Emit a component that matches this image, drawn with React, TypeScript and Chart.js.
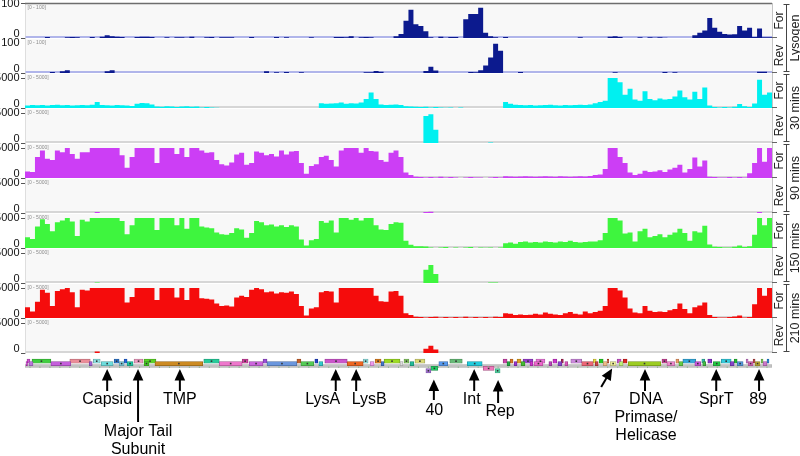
import React, { useEffect, useRef } from 'react';
import { Chart, registerables } from 'chart.js';

Chart.register(...registerables);

const N_BINS = 150;
const STRANDS = ['For', 'Rev', 'For', 'Rev', 'For', 'Rev', 'For', 'Rev', 'For', 'Rev'];
const CONDITIONS = ['Lysogen', '30 mins', '90 mins', '150 mins', '210 mins'];
const TRACK_RANGE = [100, 100, 5000, 5000, 5000, 5000, 5000, 5000, 5000, 5000];

const LYSOGEN_FOR = [
  0, 0, 0, 0, 3, 0, 0, 0, 2, 3,
  2, 0, 0, 3, 0, 4, 8, 5, 4, 3,
  0, 0, 3, 4, 4, 3, 0, 0, 2, 0,
  2, 2, 1, 4, 0, 0, 2, 3, 0, 2,
  2, 2, 0, 0, 0, 3, 0, 0, 0, 0,
  3, 0, 2, 0, 0, 0, 0, 2, 0, 0,
  0, 0, 3, 3, 2, 5, 0, 2, 3, 2,
  0, 0, 0, 0, 5, 12, 50, 82, 40, 35,
  20, 2, 0, 4, 1, 3, 3, 0, 55, 70,
  70, 88, 15, 5, 2, 0, 3, 0, 0, 0,
  0, 0, 0, 0, 0, 0, 0, 0, 0, 0,
  0, 2, 0, 0, 0, 0, 0, 4, 5, 3,
  0, 0, 0, 2, 0, 2, 1, 2, 1, 0,
  0, 0, 0, 0, 8, 15, 22, 58, 30, 18,
  12, 10, 11, 35, 22, 30, 3, 28, 2, 2,
];
const LYSOGEN_REV = [
  0, 0, 0, 0, 0, 3, 0, 5, 8, 0,
  0, 0, 0, 0, 0, 0, 5, 8, 0, 0,
  0, 0, 0, 0, 0, 0, 0, 0, 0, 0,
  0, 0, 0, 0, 0, 0, 0, 0, 0, 0,
  0, 0, 0, 0, 0, 0, 0, 0, 5, 0,
  2, 0, 3, 0, 0, 2, 0, 0, 0, 0,
  0, 0, 0, 0, 0, 0, 0, 0, 2, 2,
  6, 4, 0, 0, 0, 0, 0, 0, 0, 0,
  6, 18, 7, 0, 0, 0, 0, 0, 0, 3,
  2, 8, 22, 45, 85, 65, 0, 0, 0, 3,
  0, 0, 0, 0, 0, 0, 0, 0, 0, 0,
  0, 0, 0, 0, 0, 0, 0, 0, 2, 0,
  0, 0, 0, 0, 0, 0, 0, 0, 3, 0,
  2, 0, 0, 0, 0, 0, 0, 0, 0, 0,
  0, 0, 0, 0, 0, 0, 0, 4, 4, 0,
];
const MIN30_FOR = [
  400, 500, 450, 500, 400, 500, 550, 450, 500, 400,
  450, 500, 450, 550, 1000, 500, 450, 400, 500, 450,
  400, 350, 700, 850, 800, 600, 250, 200, 300, 250,
  150, 250, 300, 200, 250, 100, 150, 100, 50, 0,
  0, 0, 0, 0, 0, 0, 0, 0, 0, 0,
  0, 0, 0, 0, 0, 0, 0, 0, 0, 800,
  700, 750, 800, 900, 700, 800, 750, 900, 1500, 2600,
  1500, 600, 500, 550, 600, 500, 300, 250, 200, 150,
  200, 100, 150, 100, 50, 100, 0, 100, 0, 0,
  0, 0, 0, 0, 0, 0, 1000, 700, 550, 500,
  450, 500, 400, 450, 500, 550, 450, 400, 500, 450,
  500, 550, 500, 600, 800, 1000, 1200, 5000, 5000, 4300,
  2200, 3200, 1400, 1200, 2800, 1500, 1300, 1600, 1400, 1500,
  1900, 2900, 1800, 1400, 2700, 1500, 3400, 400, 150, 100,
  150, 100, 200, 650, 300, 150, 750, 4700, 2200, 2600,
];
const MIN30_REV = [
  0, 0, 0, 0, 0, 0, 0, 0, 0, 0,
  0, 0, 0, 0, 0, 0, 0, 0, 0, 0,
  0, 0, 0, 0, 0, 0, 0, 0, 0, 0,
  0, 0, 0, 0, 0, 0, 0, 0, 0, 0,
  0, 0, 0, 0, 0, 0, 0, 0, 0, 0,
  0, 0, 0, 0, 0, 0, 0, 0, 0, 0,
  0, 0, 0, 0, 0, 0, 0, 0, 0, 0,
  0, 0, 0, 0, 0, 0, 0, 0, 0, 0,
  4500, 4800, 2200, 0, 0, 0, 0, 0, 0, 0,
  0, 0, 0, 100, 0, 0, 0, 0, 0, 0,
  0, 0, 0, 0, 0, 0, 0, 0, 0, 0,
  0, 0, 0, 0, 0, 0, 0, 0, 0, 0,
  0, 0, 0, 0, 0, 0, 0, 0, 0, 0,
  0, 0, 0, 0, 0, 0, 0, 0, 0, 0,
  0, 0, 0, 0, 0, 0, 0, 0, 0, 0,
];
const MIN90_FOR = [
  1100, 1000, 3500, 4600, 3200, 3000, 4600, 4300, 5000, 4000,
  3200, 4300, 4300, 5000, 5000, 5000, 5000, 5000, 5000, 3800,
  1700, 3500, 5000, 5000, 5000, 5000, 2500, 5000, 5000, 5000,
  4000, 5000, 3500, 5000, 5000, 4600, 4200, 4300, 3000, 2300,
  2100, 2600, 3900, 4200, 2200, 2500, 4400, 4200, 3800, 4000,
  3600, 4600, 3900, 4400, 4500, 2500, 700, 2000, 2300, 3500,
  3700, 3000, 1900, 4600, 5000, 5000, 5000, 4200, 5000, 4500,
  4400, 3000, 2700, 4200, 4600, 3500, 900, 500, 200, 150,
  100, 150, 100, 200, 100, 150, 100, 0, 100, 150,
  100, 100, 0, 100, 150, 100, 300, 250, 200, 250,
  300, 250, 200, 250, 300, 250, 200, 300, 250, 200,
  250, 300, 250, 350, 500, 600, 1500, 5000, 5000, 3500,
  2500, 900, 500, 700, 1200, 1000, 1100, 1300, 1000, 1400,
  1700, 2200, 900, 1500, 3400, 1900, 2900, 200, 150, 100,
  100, 150, 100, 150, 100, 800, 2500, 5000, 2700, 5000,
];
const MIN90_REV = [
  0, 0, 0, 0, 0, 0, 0, 0, 0, 0,
  0, 0, 0, 0, 150, 0, 0, 0, 0, 0,
  0, 0, 0, 0, 0, 0, 0, 0, 0, 0,
  0, 0, 0, 0, 0, 0, 0, 0, 0, 0,
  0, 0, 0, 0, 0, 0, 0, 0, 0, 0,
  0, 0, 0, 0, 0, 0, 0, 0, 0, 0,
  0, 0, 0, 0, 0, 0, 0, 0, 0, 0,
  0, 0, 0, 0, 0, 0, 0, 0, 0, 0,
  150, 200, 0, 0, 0, 0, 0, 0, 0, 0,
  0, 0, 0, 0, 0, 0, 0, 0, 0, 0,
  0, 0, 0, 0, 0, 0, 0, 0, 0, 0,
  0, 0, 0, 0, 0, 0, 0, 0, 0, 0,
  0, 0, 0, 0, 0, 0, 0, 0, 0, 0,
  0, 0, 0, 0, 0, 0, 0, 0, 0, 0,
  0, 0, 0, 0, 0, 0, 0, 150, 0, 0,
];
const MIN150_FOR = [
  1800, 1500, 3600, 4800, 4000, 2800, 4300, 4600, 5000, 4400,
  2000, 4700, 4400, 5000, 5000, 5000, 5000, 5000, 5000, 4500,
  2300, 3800, 5000, 5000, 5000, 5000, 3000, 5000, 5000, 5000,
  3800, 5000, 3200, 5000, 5000, 3600, 3400, 3300, 2600, 2300,
  2200, 2500, 3300, 3100, 1700, 2500, 4500, 4300, 3800, 3900,
  3600, 3800, 3500, 3800, 3600, 1400, 400, 1300, 1500, 4500,
  4200, 4600, 2600, 5000, 5000, 4700, 5000, 4600, 5000, 5000,
  3800, 3100, 3000, 4000, 4300, 4200, 1200, 550, 300, 300,
  250, 100, 0, 100, 150, 0, 100, 0, 100, 150,
  0, 100, 50, 100, 0, 100, 800, 900, 700, 1000,
  1100, 900, 1000, 900, 1100, 1000, 900, 1100, 1000, 1200,
  1000, 900, 1000, 1100, 1100, 1300, 2500, 5000, 5000, 4600,
  2400, 2600, 1100, 2800, 3200, 1800, 2000, 2300, 1800, 2200,
  2600, 3200, 2500, 1200, 2800, 2600, 3700, 600, 200, 150,
  100, 100, 200, 400, 150, 300, 2200, 5000, 3800, 5000,
];
const MIN150_REV = [
  0, 0, 0, 0, 0, 0, 0, 0, 0, 0,
  0, 0, 0, 0, 100, 0, 0, 0, 0, 0,
  0, 0, 0, 0, 0, 0, 0, 0, 0, 0,
  0, 0, 0, 0, 0, 0, 0, 0, 0, 0,
  0, 0, 0, 0, 0, 0, 0, 0, 0, 0,
  0, 0, 0, 0, 0, 0, 0, 0, 0, 0,
  0, 0, 0, 0, 0, 0, 0, 0, 0, 0,
  0, 0, 0, 0, 0, 0, 0, 0, 0, 0,
  2200, 3000, 1500, 0, 0, 0, 0, 0, 0, 0,
  0, 0, 0, 100, 100, 0, 0, 0, 0, 0,
  0, 0, 0, 0, 0, 0, 0, 0, 0, 0,
  0, 0, 0, 0, 0, 0, 0, 0, 0, 0,
  0, 0, 0, 0, 0, 0, 0, 0, 0, 0,
  0, 0, 0, 0, 0, 0, 0, 0, 0, 0,
  0, 0, 0, 0, 0, 0, 0, 0, 0, 0,
];
const MIN210_FOR = [
  1800, 1100, 2700, 4700, 4200, 2000, 4500, 4800, 5000, 4300,
  1800, 4700, 4600, 5000, 5000, 5000, 5000, 5000, 5000, 5000,
  2600, 3500, 5000, 5000, 5000, 5000, 3000, 5000, 5000, 5000,
  3400, 5000, 3000, 5000, 5000, 3300, 3200, 3100, 2400, 2000,
  2100, 1900, 3400, 3700, 3500, 4700, 5000, 4800, 4300, 4400,
  4100, 4300, 4200, 4400, 4000, 2000, 400, 1600, 1800, 4300,
  4500, 4400, 2600, 5000, 5000, 5000, 5000, 5000, 5000, 5000,
  3700, 2800, 2700, 4400, 4500, 3700, 800, 500, 200, 150,
  100, 150, 200, 100, 150, 100, 150, 100, 200, 100,
  150, 100, 150, 100, 200, 150, 800, 700, 500, 600,
  500, 550, 700, 600, 900, 700, 600, 500, 800, 1000,
  700, 600, 1100, 800, 1000, 1200, 2000, 5000, 5000, 4600,
  3400, 1600, 900, 800, 2000, 1200, 1000, 1100, 1000, 1300,
  1500, 2400, 1500, 800, 1800, 2100, 2600, 500, 150, 100,
  100, 150, 250, 400, 100, 150, 2300, 5000, 3700, 5000,
];
const MIN210_REV = [
  0, 0, 0, 0, 0, 0, 0, 0, 0, 0,
  0, 0, 0, 0, 250, 0, 0, 0, 0, 0,
  0, 0, 0, 0, 0, 0, 0, 0, 0, 0,
  0, 0, 0, 0, 0, 0, 0, 0, 0, 0,
  0, 0, 0, 0, 0, 0, 0, 0, 0, 0,
  0, 0, 0, 0, 0, 0, 0, 0, 0, 0,
  0, 0, 0, 0, 0, 0, 0, 0, 0, 0,
  0, 0, 0, 0, 0, 0, 0, 0, 0, 0,
  700, 1200, 600, 0, 0, 0, 0, 0, 0, 0,
  0, 0, 0, 0, 0, 0, 0, 0, 0, 0,
  0, 0, 0, 0, 0, 0, 0, 0, 0, 0,
  0, 0, 0, 0, 0, 0, 0, 0, 0, 0,
  0, 0, 0, 0, 0, 0, 0, 0, 0, 0,
  0, 0, 0, 0, 0, 0, 0, 0, 0, 0,
  0, 0, 0, 0, 0, 0, 0, 0, 0, 0,
];

// genes: [start, end, lane]  (lane 0/1 above the ruler, 3/4 below it)
const GENES: [number, number, number][] = [
  [0.4, 1.0, 0], [1.4, 5.2, 0], [9.0, 13.1, 0], [13.7, 15.1, 0], [17.9, 18.9, 0], [19.9, 20.5, 0],
  [21.9, 23.7, 0], [23.9, 26.3, 0], [35.9, 39.0, 0], [43.6, 44.8, 0], [47.8, 48.6, 0], [54.6, 55.4, 0],
  [58.2, 58.8, 0], [60.2, 64.7, 0], [67.9, 68.9, 0], [70.3, 71.5, 0], [72.1, 75.3, 0], [76.1, 77.1, 0],
  [78.3, 80.3, 0], [85.3, 87.8, 0], [96.0, 96.8, 0], [97.4, 98.0, 0], [98.8, 99.6, 0], [100.0, 102.0, 0],
  [102.6, 104.4, 0], [106.0, 106.8, 0], [107.7, 108.1, 0], [109.6, 111.8, 0], [114.1, 114.7, 0], [115.3, 116.1, 0],
  [116.9, 117.2, 0], [118.9, 119.7, 0], [120.1, 120.9, 0], [127.9, 128.9, 0], [130.7, 131.3, 0], [132.1, 134.7, 0],
  [135.9, 136.5, 0], [137.1, 137.9, 0], [139.8, 141.8, 0], [142.4, 143.0, 0], [144.8, 145.2, 0], [146.2, 146.6, 0],
  [147.8, 148.2, 0], [149.0, 149.4, 0],
  [0.2, 0.5, 1], [0.8, 1.6, 1], [5.2, 9.2, 1], [12.9, 13.5, 1], [15.3, 17.7, 1], [18.9, 19.9, 1],
  [20.5, 21.7, 1], [23.9, 24.9, 1], [26.1, 35.7, 1], [39.0, 43.6, 1], [45.0, 47.8, 1], [48.6, 54.6, 1],
  [55.4, 58.0, 1], [59.0, 59.8, 1], [64.7, 67.9, 1], [69.3, 70.1, 1], [71.5, 72.1, 1], [75.3, 75.9, 1],
  [77.3, 78.1, 1], [83.1, 84.9, 1], [88.8, 91.8, 1], [96.8, 97.4, 1], [98.2, 98.8, 1], [99.6, 100.4, 1],
  [101.4, 102.0, 1], [102.2, 104.0, 1], [105.2, 105.8, 1], [107.0, 107.8, 1], [108.4, 109.0, 1], [111.8, 114.1, 1],
  [114.5, 115.1, 1], [116.1, 116.9, 1], [117.5, 118.7, 1], [119.3, 120.1, 1], [121.1, 127.7, 1], [128.9, 130.5, 1],
  [131.3, 132.1, 1], [134.5, 135.7, 1], [136.1, 136.7, 1], [138.2, 139.6, 1], [141.6, 142.4, 1], [143.0, 144.2, 1],
  [145.2, 146.2, 1], [146.6, 147.6, 1], [148.2, 149.0, 1],
  [81.5, 82.9, 3], [92.0, 94.2, 3], [80.5, 81.5, 4], [94.4, 95.4, 4],
];
const GENE_COLORS = [
  '#d24fd2', '#3fcf3f', '#ec8c98', '#8fe3e3', '#2f78cf', '#2266dd', '#ee9cc0', '#5ad426', '#25cc9a', '#d0409f',
  '#9b4fd8', '#c8602a', '#2040c8', '#cc55cc', '#90e4e4', '#e08020', '#9cdc22', '#88cc66', '#dada74', '#66bb77',
  '#cc44aa', '#dd7722', '#e0a020', '#9a3fd0', '#ee77dd', '#cc33cc', '#aa2255', '#cc88dd', '#eedd44', '#22cc22',
  '#cc4422', '#cc55cc', '#dd2222', '#cc4499', '#ee9966', '#33aadd', '#33bbaa', '#8833cc', '#33ccdd', '#22bb33',
  '#cc77cc', '#bb4444', '#77cc55', '#2288dd',
  '#cc33cc', '#bb77dd', '#c55fdc', '#a35fd5', '#6fdddd', '#7fcfe0', '#22c9a5', '#44cc22', '#cc8a22', '#ee77cc',
  '#cc66dd', '#6a96dd', '#55cc55', '#33cccc', '#ee6622', '#ee99ee', '#4477cc', '#dddddd', '#22bb99', '#5599ee',
  '#22ccdd', '#22aa44', '#9933cc', '#44bb33', '#cc33cc', '#ee66cc', '#bb44bb', '#8844cc', '#dd55bb', '#ee6677',
  '#cc4444', '#eebb88', '#eeee99', '#bbee77', '#9ccc22', '#ee88cc', '#66cc44', '#cc55dd', '#44bb44', '#22cc44',
  '#8844cc', '#5599dd', '#dd66bb', '#bbaa33', '#cc77cc',
  '#22cc66', '#ee77bb', '#aa77dd', '#55ddaa',
];
const RULER: [number, number, number] = [0, 150, 2];

const ANNOTATIONS = [
  { text: ['Capsid'], arrow: 16.5, label: 16.5 },
  { text: ['Major Tail', 'Subunit'], arrow: 22.7, label: 22.7 },
  { text: ['TMP'], arrow: 31.1, label: 31.1 },
  { text: ['LysA'], arrow: 62.4, label: 59.8 },
  { text: ['LysB'], arrow: 66.5, label: 69.1 },
  { text: ['40'], arrow: 82.1, label: 82.2 },
  { text: ['Int'], arrow: 90.2, label: 89.7 },
  { text: ['Rep'], arrow: 95.0, label: 95.4 },
  { text: ['67'], arrow: 117.9, label: 113.8, tail: 115.7 },
  { text: ['DNA', 'Primase/', 'Helicase'], arrow: 124.5, label: 124.7 },
  { text: ['SprT'], arrow: 138.8, label: 138.8 },
  { text: ['89'], arrow: 147.4, label: 147.2 },
];
// style: [arrow tip y, arrow tail y, first text line y] in px
const ANNOT_Y = [
  [369, 391, 400], [369, 422, 432], [369, 391, 400], [369, 391, 400], [369, 391, 400], [379.5, 400, 410.7],
  [369, 391, 400], [380, 403, 412], [368.5, 387, 400], [369, 391, 400], [369, 391, 400], [369, 391, 400],
];

const TRACKS = [LYSOGEN_FOR, LYSOGEN_REV, MIN30_FOR, MIN30_REV, MIN90_FOR, MIN90_REV, MIN150_FOR, MIN150_REV, MIN210_FOR, MIN210_REV];
const TRACK_COLORS = ['#0c1a8e', '#0c1a8e', '#00f0f0', '#00f0f0', '#cc3ef5', '#cc3ef5', '#3ef53e', '#3ef53e', '#f50c0c', '#f50c0c'];
const AXIS_HEADROOM = [1.02, 1.02, 1.1667, 1.1667, 1.1667, 1.1667, 1.1667, 1.1667, 1.1667, 1.1667];
const FONT = '"Liberation Sans", Arial, Helvetica, sans-serif';

function darken(hex: string, f: number) {
  const n = parseInt(hex.slice(1), 16);
  const r = Math.round(((n >> 16) & 255) * f);
  const g = Math.round(((n >> 8) & 255) * f);
  const b = Math.round((n & 255) * f);
  return `rgb(${r},${g},${b})`;
}

function drawArrow(ctx: CanvasRenderingContext2D, tipX: number, tipY: number, tailX: number, tailY: number) {
  const dx = tipX - tailX, dy = tipY - tailY;
  const len = Math.hypot(dx, dy);
  const ux = dx / len, uy = dy / len;
  const headLen = 11.5, halfW = 5.3;
  const bx = tipX - ux * headLen, by = tipY - uy * headLen;
  const px = -uy, py = ux;
  ctx.beginPath();
  ctx.moveTo(tipX, tipY);
  ctx.lineTo(bx + px * halfW, by + py * halfW);
  ctx.lineTo(bx - px * halfW, by - py * halfW);
  ctx.closePath();
  ctx.fill();
  ctx.lineWidth = 2;
  ctx.beginPath();
  ctx.moveTo(bx + ux, by + uy);
  ctx.lineTo(tailX, tailY);
  ctx.stroke();
}

const decorPlugin = {
  id: 'decor',
  beforeDatasetsDraw(chart: any) {
    const { ctx, chartArea } = chart;
    const left = chartArea.left, w = chartArea.right - chartArea.left;
    ctx.save();
    TRACKS.forEach((_, t) => {
      const s = chart.scales['y' + t];
      ctx.fillStyle = '#f8f8f8';
      ctx.fillRect(left + 0.5, s.top + 1, w - 0.5, s.bottom - s.top - 1);
      const z = s.getPixelForValue(0);
      ctx.fillStyle = t < 2 ? '#b0b5ea' : '#d6d6d6';
      ctx.fillRect(left + 0.5, z - 2, w - 0.5, 2);
      ctx.fillStyle = '#8a8a8a';
      ctx.font = `5px ${FONT}`;
      ctx.textAlign = 'left';
      ctx.textBaseline = 'middle';
      ctx.fillText(`[0 - ${TRACK_RANGE[t]}]`, left + 2.5, s.top + 5);
    });
    ctx.restore();
  },
  afterDatasetsDraw(chart: any) {
    const { ctx } = chart;
    ctx.save();
    const meta = chart.getDatasetMeta(TRACKS.length);
    ctx.fillStyle = '#333';
    meta.data.forEach((bar: any) => {
      const { x, y, base } = bar.getProps(['x', 'y', 'base'], true);
      if (Math.abs(x - base) > 4) ctx.fillRect((x + base) / 2 - 0.8, y - 0.8, 1.6, 1.6);
    });
    const xs = chart.scales.x;
    const gy = chart.scales.genes.getPixelForValue(RULER[2]);
    ctx.fillStyle = '#8fb88f';
    for (let v = 1; v < N_BINS; v += 2) {
      const px = xs.getPixelForValue(v);
      ctx.fillRect(px - 0.5, gy + 0.5, 1, 1.5);
    }
    ctx.restore();
  },
  afterDraw(chart: any) {
    const { ctx, chartArea } = chart;
    const xs = chart.scales.x;
    const topS = chart.scales.y0;
    const botS = chart.scales['y' + (TRACKS.length - 1)];
    ctx.save();
    ctx.strokeStyle = '#6e6e6e';
    ctx.lineWidth = 1.5;
    ctx.beginPath();
    ctx.moveTo(chartArea.left, topS.top + 0.5);
    ctx.lineTo(chartArea.right, topS.top + 0.5);
    ctx.stroke();
    ctx.strokeStyle = '#c4c4c4';
    ctx.lineWidth = 1;
    ctx.beginPath();
    ctx.moveTo(chartArea.right + 0.5, topS.top);
    ctx.lineTo(chartArea.right + 0.5, botS.bottom);
    ctx.stroke();
    TRACKS.forEach((_, t) => {
      const s = chart.scales['y' + t];
      ctx.strokeStyle = '#666';
      ctx.beginPath();
      ctx.moveTo(chartArea.right, s.bottom - 0.5);
      ctx.lineTo(chartArea.right + 5, s.bottom - 0.5);
      ctx.stroke();
      ctx.save();
      ctx.translate(chartArea.right + 7.5, (s.top + s.bottom) / 2);
      ctx.rotate(-Math.PI / 2);
      ctx.fillStyle = '#222';
      ctx.font = `12px ${FONT}`;
      ctx.textAlign = 'center';
      ctx.textBaseline = 'middle';
      ctx.fillText(STRANDS[t], 0, 0);
      ctx.restore();
    });
    CONDITIONS.forEach((c, g) => {
      const a = chart.scales['y' + g * 2];
      const b = chart.scales['y' + (g * 2 + 1)];
      const bx = chart.chartArea.right + 14.5;
      const y1 = a.top + 1, y2 = b.bottom - 1;
      ctx.strokeStyle = '#444';
      ctx.lineWidth = 1;
      ctx.beginPath();
      ctx.moveTo(bx, y1); ctx.lineTo(bx, y2);
      ctx.moveTo(bx - 3, y1 + 0.5); ctx.lineTo(bx + 3, y1 + 0.5);
      ctx.moveTo(bx - 3, y2 - 0.5); ctx.lineTo(bx + 3, y2 - 0.5);
      ctx.stroke();
      ctx.save();
      ctx.translate(bx + 9, (y1 + y2) / 2);
      ctx.rotate(-Math.PI / 2);
      ctx.fillStyle = '#222';
      ctx.font = `12.5px ${FONT}`;
      ctx.textAlign = 'center';
      ctx.textBaseline = 'middle';
      ctx.fillText(c, 0, 0);
      ctx.restore();
    });
    ctx.fillStyle = '#000';
    ctx.strokeStyle = '#000';
    ANNOTATIONS.forEach((a, i) => {
      const [tipY, tailY, textY] = ANNOT_Y[i];
      const ax = xs.getPixelForValue(a.arrow);
      const tx = a.tail !== undefined ? xs.getPixelForValue(a.tail) : ax;
      drawArrow(ctx, ax, tipY, tx, tailY);
      ctx.font = `16px ${FONT}`;
      ctx.textAlign = 'center';
      ctx.textBaseline = 'middle';
      const lx = xs.getPixelForValue(a.label);
      a.text.forEach((line, k) => ctx.fillText(line, lx, textY + k * 17.6));
    });
    ctx.restore();
  },
};

export default function App() {
  const ref = useRef<HTMLCanvasElement>(null);
  useEffect(() => {
    const canvas = ref.current;
    if (!canvas) return;
    const fitLeft = (s: any) => { s.width = 25; s.paddingTop = 0; s.paddingBottom = 0; };
    const scales: any = {
      x: { type: 'linear', min: 0, max: N_BINS, display: false },
    };
    TRACKS.forEach((_, t) => {
      const range = TRACK_RANGE[t];
      const lyso = t < 2;
      scales['y' + t] = {
        type: 'linear',
        position: 'left',
        stack: 'tracks',
        stackWeight: 1,
        weight: 100 - t,
        min: 0,
        max: range * AXIS_HEADROOM[t],
        afterBuildTicks: (s: any) => { s.ticks = [{ value: 0 }, { value: range }]; },
        afterFit: fitLeft,
        grid: { display: true, drawOnChartArea: false, drawTicks: true, tickLength: 4, tickColor: '#555', tickWidth: 1 },
        border: { display: true, color: '#c4c4c4', width: 1 },
        ticks: {
          padding: 1.5,
          color: '#111',
          autoSkip: false,
          callback: (v: number) => (v === 0 ? ['0', ''] : lyso && t > 0 ? ['', String(v)] : String(v)),
          font: (c: any) => ({ family: FONT, size: 11, lineHeight: c.tick && c.tick.value === 0 ? '7.5px' : '8px' }),
        },
      };
    });
    scales.genes = {
      type: 'linear',
      position: 'left',
      stack: 'tracks',
      stackWeight: 25 / 35,
      weight: 0,
      min: -0.8,
      max: 4.4,
      reverse: true,
      afterFit: fitLeft,
      ticks: { display: false },
      grid: { display: false },
      border: { display: false },
    };

    const datasets: any[] = TRACKS.map((vals, t) => ({
      type: 'line',
      data: vals.map((v, i) => ({ x: i, y: v })).concat([{ x: N_BINS, y: vals[N_BINS - 1] }]),
      xAxisID: 'x',
      yAxisID: 'y' + t,
      stepped: true,
      fill: 'origin',
      backgroundColor: TRACK_COLORS[t],
      borderColor: 'rgba(0,0,0,0)',
      borderWidth: 0,
      pointRadius: 0,
      pointHoverRadius: 0,
    }));
    datasets.push({
      type: 'bar',
      indexAxis: 'y',
      xAxisID: 'x',
      yAxisID: 'genes',
      data: GENES.map((g) => ({ x: [g[0], g[1]], y: g[2] })),
      backgroundColor: GENE_COLORS,
      borderColor: GENE_COLORS.map((c) => darken(c, 0.72)),
      borderWidth: 0.8,
      borderSkipped: false,
      barThickness: 4.2,
      grouped: false,
    });
    datasets.push({
      type: 'bar',
      indexAxis: 'y',
      xAxisID: 'x',
      yAxisID: 'genes',
      data: [{ x: [RULER[0], RULER[1]], y: RULER[2] }],
      backgroundColor: '#c2c2c2',
      borderColor: '#a8a8a8',
      borderWidth: 0.6,
      borderSkipped: false,
      barThickness: 3,
      grouped: false,
    });

    const chart = new Chart(canvas, {
      type: 'line',
      data: { datasets },
      options: {
        animation: false,
        responsive: false,
        devicePixelRatio: 1,
        events: [],
        layout: { padding: { top: 3, right: 28, bottom: 78, left: 0 } },
        plugins: { legend: { display: false }, tooltip: { enabled: false } },
        scales,
      },
      plugins: [decorPlugin],
    } as any);
    return () => chart.destroy();
  }, []);

  return (
    <div style={{ position: 'fixed', left: 0, top: 0, width: 800, height: 456, background: '#fff' }}>
      <canvas ref={ref} width={800} height={456} style={{ width: 800, height: 456, display: 'block' }} />
    </div>
  );
}
